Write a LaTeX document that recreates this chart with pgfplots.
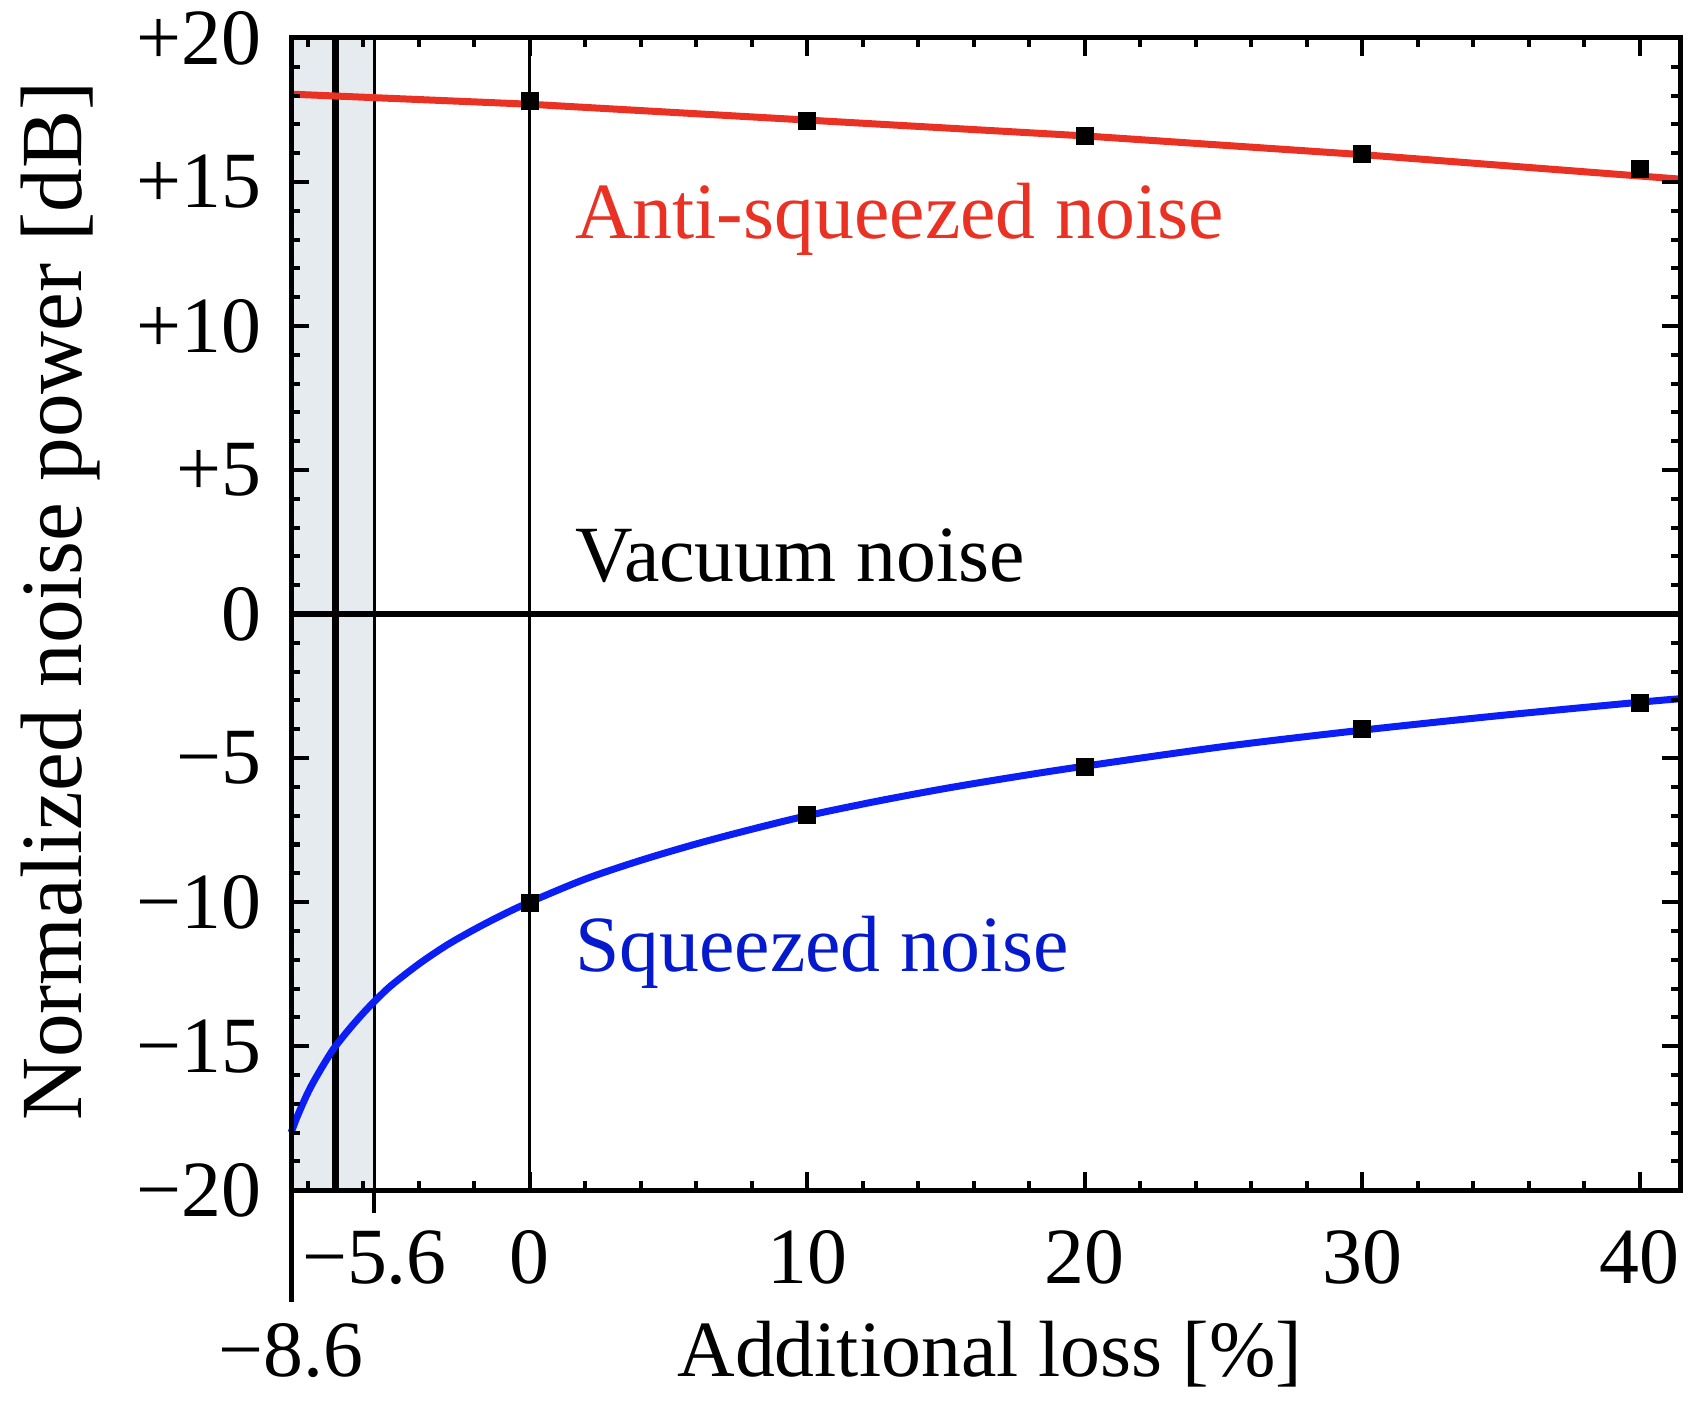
\documentclass[border=0pt]{standalone}
\usepackage{fontspec}
\setmainfont{Liberation Serif}
\usepackage{pgfplots}
\pgfplotsset{compat=1.18}
\definecolor{redc}{RGB}{234,50,36}
\definecolor{bluec}{RGB}{10,30,245}
\definecolor{bluet}{RGB}{5,25,205}
\definecolor{shadec}{RGB}{230,235,240}
\begin{document}
\fontsize{16}{19}\selectfont
\begin{tikzpicture}
\begin{axis}[
  scale only axis, width=277.6bp, height=230.3bp,
  xmin=-8.6, xmax=41.45, ymin=-20, ymax=20,
  clip=false, axis on top,
  axis line style={line width=1bp},
  tick style={line width=0.8bp, black},
  tick align=inside,
  major tick length=3.6bp, minor tick length=1.8bp,
  xtick={0,10,20,30,40},
  minor xtick={-8,-6,-4,-2,2,4,6,8,12,14,16,18,22,24,26,28,32,34,36,38},
  ytick={-20,-15,-10,-5,0,5,10,15,20},
  yticklabels={−20,−15,−10,−5,0,+5,+10,+15,+20},
  minor ytick={-19,-18,-17,-16,-14,-13,-12,-11,-9,-8,-7,-6,-4,-3,-2,-1,1,2,3,4,6,7,8,9,11,12,13,14,16,17,18,19},
  xticklabel style={anchor=base, yshift=-18.6bp},
  yticklabel style={inner sep=0pt, xshift=-5.8bp},
  /pgf/number format/assume math mode=true,
]
% shaded region
\addplot[draw=none, fill=shadec] coordinates {(-8.6,-20) (-5.6,-20) (-5.6,20) (-8.6,20)} -- cycle;
% vertical lines
\addplot[black, line width=1.3bp] coordinates {(-7,-20) (-7,20)};
\addplot[black, line width=0.65bp] coordinates {(-5.6,-20) (-5.6,20)};
\addplot[black, line width=0.65bp] coordinates {(0,-20) (0,20)};
% vacuum
\addplot[black, line width=1.2bp] coordinates {(-8.6,0) (41.45,0)};
% extra outer ticks
\addplot[black, line width=0.8bp] coordinates {(-5.6,-20) (-5.6,-20.8)};
\addplot[black, line width=1bp] coordinates {(-8.6,-20) (-8.6,-23.88)};
% anti-squeezed
\addplot[redc, line width=1.4bp] coordinates {
(-8.6,18.05) (0,17.7) (10,17.15) (20,16.6) (30,15.95) (41.45,15.1)};
% squeezed
\addplot[bluec, line width=1.4bp, smooth] coordinates {
(-8.6,-18.0) (-8.5,-17.74) (-8.4,-17.49) (-8.2,-17.04) (-8,-16.62) (-7.8,-16.25)
(-7.5,-15.75) (-7.2,-15.28) (-7,-15.0) (-6.5,-14.4)
(-6,-13.85) (-5.6,-13.45) (-5,-12.9) (-4,-12.15) (-3,-11.5) (-2,-10.95)
(-1,-10.45) (0,-10.0) (2,-9.2) (4,-8.55) (6,-7.98) (8,-7.47) (10,-7.0)
(12.5,-6.5) (15,-6.05) (17.5,-5.65) (20,-5.28) (25,-4.6) (30,-4.03)
(35,-3.52) (40,-3.06) (41.45,-2.94)};
% data points
\addplot[only marks, mark=square*, mark size=1.6bp, black] coordinates {
(0,17.8) (10,17.13) (20,16.6) (30,15.97) (40,15.46)};
\addplot[only marks, mark=square*, mark size=1.6bp, black] coordinates {
(0,-10.03) (10,-6.98) (20,-5.32) (30,-4.0) (40,-3.08)};
% labels
\node[anchor=base west, inner sep=0pt, text=redc] at (axis cs:1.6,13.05) {Anti-squeezed noise};
\node[anchor=base west, inner sep=0pt, text=black] at (axis cs:1.6,1.12) {Vacuum noise};
\node[anchor=base west, inner sep=0pt, text=bluet] at (axis cs:1.6,-12.42) {Squeezed noise};
\node[anchor=base, inner sep=0pt] at (axis cs:-5.6,-20) [yshift=-18.6bp] {−5.6};
\node[anchor=base, inner sep=0pt] at (axis cs:-8.6,-20) [yshift=-37.3bp] {−8.6};
\node[anchor=base, inner sep=0pt] at (axis description cs:0.503,0) [yshift=-37.3bp] {Additional loss [\%]};
\node[rotate=90, anchor=base, inner sep=0pt, font=\fontsize{17.5}{20}\selectfont] at (axis description cs:-0.151,0.511) {Normalized noise power [dB]};
\coordinate (bl) at (rel axis cs:0,0);
\coordinate (tr) at (rel axis cs:1,1);
\end{axis}
\pgfresetboundingbox
\path ([shift={(-58.2bp,-44bp)}]bl) rectangle ([shift={(5.2bp,7.6bp)}]tr);
\end{tikzpicture}
\end{document}
